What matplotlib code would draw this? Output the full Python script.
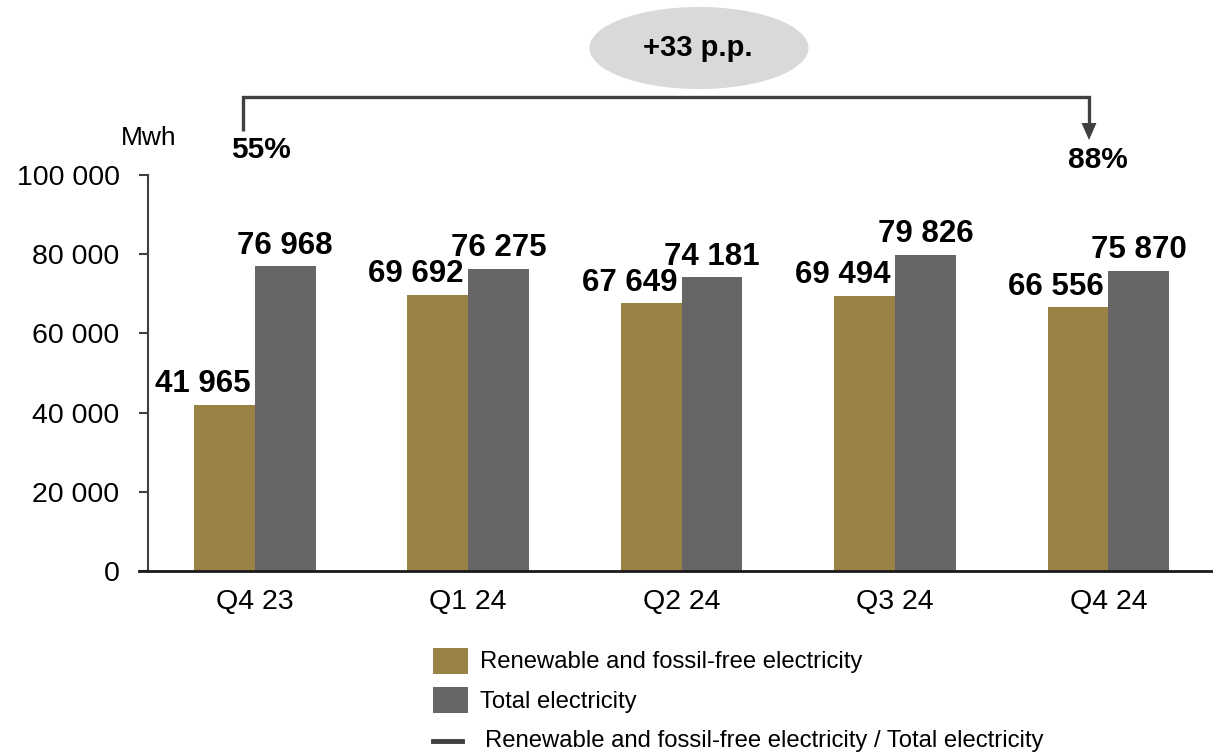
import matplotlib
matplotlib.use("Agg")
import matplotlib.pyplot as plt
import numpy as np
from matplotlib.patches import Ellipse, Rectangle, FancyArrow
from matplotlib.lines import Line2D

plt.rcParams["font.family"] = ["Liberation Sans", "DejaVu Sans"]

# Quarterly electricity consumption, MWh
quarters = ["Q4 23", "Q1 24", "Q2 24", "Q3 24", "Q4 24"]
renewable = [41965, 69692, 67649, 69494, 66556]
total = [76968, 76275, 74181, 79826, 75870]
y_ticks = [0, 20000, 40000, 60000, 80000, 100000]

GOLD = "#9a8144"
GREY = "#666666"
DARK = "#404040"

W, H = 1213, 755
fig = plt.figure(figsize=(W / 100, H / 100), dpi=100)
ax = fig.add_axes([148 / W, 1 - 571 / H, (W - 148) / W, (571 - 175) / H])

x = np.arange(len(quarters))
bw = 0.285
ax.bar(x - bw / 2, renewable, bw, color=GOLD, edgecolor="none")
ax.bar(x + bw / 2, total, bw, color=GREY, edgecolor="none")

def fmt(v):
    return f"{v:,}".replace(",", " ")

for xi, r, t in zip(x, renewable, total):
    ax.annotate(fmt(r), (xi - 0.02, r), xytext=(0, 4), textcoords="offset points",
                ha="right", va="bottom", fontsize=22.5, fontweight="bold",
                color="black", annotation_clip=False)
    ax.annotate(fmt(t), (xi + bw / 2, t), xytext=(0, 4), textcoords="offset points",
                ha="center", va="bottom", fontsize=22.5, fontweight="bold",
                color="black", annotation_clip=False)

ax.set_xlim(-0.5, 4.49)
ax.set_ylim(0, 100000)
ax.set_yticks(y_ticks)
ax.set_yticklabels([fmt(v) for v in y_ticks], fontsize=20.5)
ax.set_xticks(x)
ax.set_xticklabels(quarters, fontsize=20.5)
ax.tick_params(axis="x", length=0, pad=13)
ax.tick_params(axis="y", length=6.5, width=1.5, color=DARK, pad=14)
for s in ["top", "right"]:
    ax.spines[s].set_visible(False)
ax.spines["left"].set_color(DARK)
ax.spines["left"].set_linewidth(1.5)
ax.spines["bottom"].set_color("#1a1a1a")
ax.spines["bottom"].set_linewidth(2)
ax.spines["bottom"].set_bounds(-0.54, 4.49)

# Overlay in pixel coordinates for annotations and legend
ov = fig.add_axes([0, 0, 1, 1], facecolor="none")
ov.set_xlim(0, W)
ov.set_ylim(H, 0)
ov.axis("off")

share_start = round(100 * renewable[0] / total[0])
share_end = round(100 * renewable[-1] / total[-1])

ov.text(149, 138, "Mwh", fontsize=19, ha="center", va="center")

# Bracket from first to last quarter share
ov.plot([243, 243, 1089, 1089], [131, 97, 97, 124], color=DARK, lw=2.4,
        solid_joinstyle="miter", solid_capstyle="butt")
ov.add_patch(FancyArrow(1089, 122, 0, 18, width=0, head_width=15, head_length=17,
                        length_includes_head=True, color=DARK, lw=0))
ov.text(261, 150, f"{share_start}%", fontsize=21.5, fontweight="bold",
        ha="center", va="center")
ov.text(1098, 160, f"{share_end}%", fontsize=21.5, fontweight="bold",
        ha="center", va="center")

ov.add_patch(Ellipse((699, 48), 219, 82, color="#d9d9d9", lw=0))
ov.text(698, 48, f"+{share_end - share_start} p.p.", fontsize=21,
        fontweight="bold", ha="center", va="center")

# Legend
ov.add_patch(Rectangle((433, 648), 35, 26, color=GOLD, lw=0))
ov.add_patch(Rectangle((433, 687), 35, 26, color=GREY, lw=0))
ov.add_line(Line2D([433, 462], [741, 741], color=DARK, lw=3.5))
ov.text(480, 662, "Renewable and fossil-free electricity", fontsize=17.2,
        ha="left", va="center")
ov.text(480, 702, "Total electricity", fontsize=17.2, ha="left", va="center")
ov.text(485, 741, "Renewable and fossil-free electricity / Total electricity",
        fontsize=17.2, ha="left", va="center")

fig.savefig("out.png", dpi=100)
